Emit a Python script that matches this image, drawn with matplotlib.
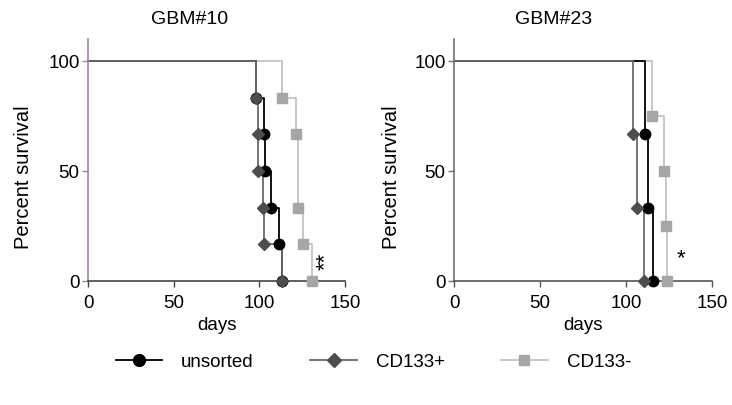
import matplotlib
matplotlib.use("Agg")
import matplotlib.pyplot as plt
from matplotlib.lines import Line2D

plt.rcParams['font.family'] = ['Liberation Sans', 'DejaVu Sans']

# ---- data ----
panels = ["GBM#10", "GBM#23"]

# GBM#10
unsorted_10_t = [98, 102.5, 103.5, 107, 111.5, 113]
unsorted_10_s = [83.3, 66.7, 50, 33.3, 16.7, 0]
cd133p_10_t = [98, 99, 99.5, 102, 103, 113]
cd133p_10_s = [83.3, 66.7, 50, 33.3, 16.7, 0]
cd133m_10_t = [113, 121.5, 122.5, 125.5, 130.5]
cd133m_10_s = [83.3, 66.7, 33.3, 16.7, 0]

# GBM#23
unsorted_23_t = [111, 112.5, 115.5]
unsorted_23_s = [66.7, 33.3, 0]
cd133p_23_t = [104, 106.5, 110.5]
cd133p_23_s = [66.7, 33.3, 0]
cd133m_23_t = [115, 122, 123, 124]
cd133m_23_s = [75, 50, 25, 0]

series_names = ["unsorted", "CD133+", "CD133-"]
significance = ["**", "*"]
x_ticks = [0, 50, 100, 150]
y_ticks = [0, 50, 100]

line_colors = {"unsorted": "#000000", "CD133+": "#6a6a6a", "CD133-": "#c4c4c4"}
marker_colors = {"unsorted": "#000000", "CD133+": "#4d4d4d", "CD133-": "#a6a6a6"}
markers = {"unsorted": "o", "CD133+": "D", "CD133-": "s"}
msizes = {"unsorted": 7.5, "CD133+": 6.5, "CD133-": 6.5}

data = [
    {"unsorted": (unsorted_10_t, unsorted_10_s),
     "CD133+": (cd133p_10_t, cd133p_10_s),
     "CD133-": (cd133m_10_t, cd133m_10_s)},
    {"unsorted": (unsorted_23_t, unsorted_23_s),
     "CD133+": (cd133p_23_t, cd133p_23_s),
     "CD133-": (cd133m_23_t, cd133m_23_s)},
]

FS = 13.5
W, H = 732, 405
fig = plt.figure(figsize=(W / 100, H / 100), dpi=100)

ax_px = [(88, 345), (454, 712)]
top_px, bot_px = 39, 281
spine_cols = [("#9c82a3", "#444444"), ("#707070", "#555555")]
title_px = [190, 554]
ylab_px = [33, 401]
star_pos = [(138.5, 9, 90), (132, 10, 0)]

for i, ax_x in enumerate(ax_px):
    ax = fig.add_axes([ax_x[0] / W, 1 - bot_px / H, (ax_x[1] - ax_x[0]) / W, (bot_px - top_px) / H])
    for name in ["CD133-", "unsorted", "CD133+"]:
        t, s = data[i][name]
        xs = [0] + list(t)
        ys = [100] + list(s)
        ax.plot(xs, ys, drawstyle="steps-post", color=line_colors[name], lw=1.3,
                clip_on=False, zorder=2)
        ax.plot(t, s, linestyle="none", marker=markers[name], ms=msizes[name],
                color=marker_colors[name], mec=marker_colors[name], clip_on=False, zorder=3)
    ax.set_xlim(0, 150)
    ax.set_ylim(0, 110)
    ax.set_xticks(x_ticks)
    ax.set_yticks(y_ticks)
    ax.tick_params(labelsize=FS, length=4, width=1, pad=2)
    ax.tick_params(axis="x", pad=6)
    for sp in ["top", "right"]:
        ax.spines[sp].set_visible(False)
    ax.spines["left"].set_color(spine_cols[i][0])
    ax.spines["bottom"].set_color(spine_cols[i][1])
    ax.spines["left"].set_linewidth(1.2)
    ax.spines["bottom"].set_linewidth(1.2)
    ax.tick_params(axis="y", color=spine_cols[i][0])
    ax.tick_params(axis="x", color=spine_cols[i][1])
    ax.set_xlabel("days", fontsize=FS, labelpad=4)
    ax.set_ylabel("Percent survival", fontsize=14.5)
    ax.yaxis.set_label_coords((ylab_px[i] - ax_x[0]) / (ax_x[1] - ax_x[0]), 0.43)
    ax.text((title_px[i] - ax_x[0]) / (ax_x[1] - ax_x[0]), 1 + 20 / (bot_px - top_px),
            panels[i], transform=ax.transAxes, ha="center", va="center", fontsize=14)
    sx, sy, rot = star_pos[i]
    ax.text(sx, sy, significance[i], rotation=rot, ha="center", va="center", fontsize=16)

handles = [Line2D([0], [0], color=line_colors[n], lw=1.3, marker=markers[n],
                  ms=msizes[n] + 1, mfc=marker_colors[n], mec=marker_colors[n])
           for n in series_names]
fig.legend(handles, series_names, loc="center", bbox_to_anchor=(0.51, 1 - 362 / H),
           ncol=3, frameon=False, fontsize=FS, handlelength=2.5, handletextpad=1.0,
           columnspacing=3.0)

fig.savefig("out.png", dpi=100)
